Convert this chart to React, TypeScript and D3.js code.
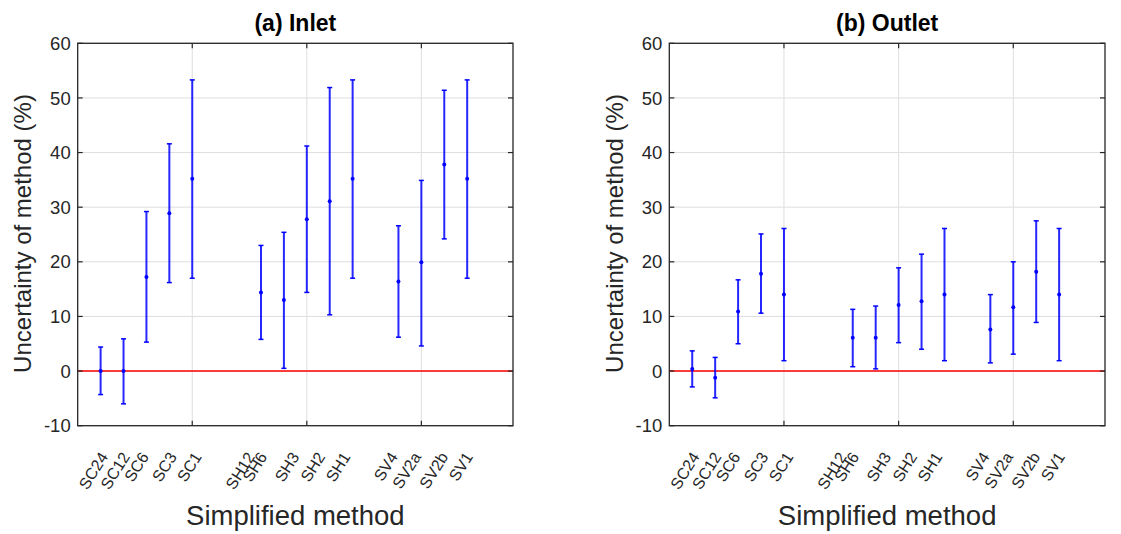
import React from "react";
import * as d3 from "d3";

const labels = ["SC24", "SC12", "SC6", "SC3", "SC1", "SH12", "SH6", "SH3", "SH2", "SH1", "SV4", "SV2a", "SV2b", "SV1"];
const xPos = [1, 2, 3, 4, 5, 8, 9, 10, 11, 12, 14, 15, 16, 17];
const labelPos = [1.35, 2.3, 3.13, 4.35, 5.44, 7.76, 8.3, 9.7, 10.83, 11.93, 14.0, 15.02, 16.2, 17.28];

const inletMean = [0, 0, 17.2, 28.9, 35.2, 14.4, 13.0, 27.8, 31.1, 35.2, 16.4, 19.9, 37.8, 35.2];
const inletLow = [-4.3, -6.0, 5.3, 16.2, 17.0, 5.8, 0.5, 14.4, 10.3, 17.0, 6.2, 4.6, 24.2, 17.0];
const inletHigh = [4.4, 5.9, 29.2, 41.6, 53.3, 23.0, 25.4, 41.2, 51.9, 53.3, 26.6, 34.9, 51.4, 53.3];

const outletMean = [0.4, -1.2, 10.9, 17.8, 14.0, 6.1, 6.1, 12.1, 12.8, 14.0, 7.6, 11.7, 18.2, 14.0];
const outletLow = [-2.9, -4.9, 5.0, 10.6, 1.9, 0.8, 0.4, 5.2, 4.0, 1.9, 1.5, 3.1, 8.9, 1.9];
const outletHigh = [3.7, 2.5, 16.7, 25.1, 26.1, 11.3, 11.9, 18.9, 21.4, 26.1, 14.0, 20.0, 27.5, 26.1];

const yTicks = [-10, 0, 10, 20, 30, 40, 50, 60];
const xGrid = [5, 10, 15];

const FONT = "'Liberation Sans', Arial, Helvetica, sans-serif";
const TEXT = "#262626";

type PanelProps = {
  title: string;
  left: number;
  right: number;
  mean: number[];
  low: number[];
  high: number[];
};

function Panel({ title, left, right, mean, low, high }: PanelProps) {
  const top = 43.3;
  const bottom = 425.7;
  const x = d3.scaleLinear().domain([0, 19]).range([left, right]);
  const y = d3.scaleLinear().domain([-10, 60]).range([bottom, top]);
  const cx = (left + right) / 2;
  const tl = 5;
  const ylx = left - 55;
  const yly = (top + bottom) / 2 - 1;
  return (
    <g>
      {yTicks.map((t) => (
        <line key={"gy" + t} x1={left} x2={right} y1={y(t)} y2={y(t)} stroke="#dedede" strokeWidth={1} />
      ))}
      {xGrid.map((t) => (
        <line key={"gx" + t} x1={x(t)} x2={x(t)} y1={top} y2={bottom} stroke="#dedede" strokeWidth={1} />
      ))}
      <line x1={left} x2={right} y1={y(0)} y2={y(0)} stroke="#ff0000" strokeWidth={1.6} />
      {xPos.map((p, i) => {
        const px = x(p);
        return (
          <g key={"e" + i} stroke="#0000ff" fill="#0000ff">
            <line x1={px} x2={px} y1={y(low[i])} y2={y(high[i])} strokeWidth={2} strokeOpacity={0.85} />
            <line x1={px - 2.5} x2={px + 2.5} y1={y(low[i])} y2={y(low[i])} strokeWidth={1.5} />
            <line x1={px - 2.5} x2={px + 2.5} y1={y(high[i])} y2={y(high[i])} strokeWidth={1.5} />
            <circle cx={px} cy={y(mean[i])} r={2} stroke="none" />
          </g>
        );
      })}
      <rect x={left} y={top} width={right - left} height={bottom - top} fill="none" stroke="#262626" strokeWidth={1.3} />
      {yTicks.map((t) => (
        <g key={"ty" + t} stroke="#262626" strokeWidth={1.2}>
          <line x1={left} x2={left + tl} y1={y(t)} y2={y(t)} />
          <line x1={right} x2={right - tl} y1={y(t)} y2={y(t)} />
        </g>
      ))}
      {xGrid.map((t) => (
        <g key={"tx" + t} stroke="#262626" strokeWidth={1.2}>
          <line x1={x(t)} x2={x(t)} y1={bottom} y2={bottom - tl} />
          <line x1={x(t)} x2={x(t)} y1={top} y2={top + tl} />
        </g>
      ))}
      {yTicks.map((t) => (
        <text key={"yl" + t} x={left - 7} y={y(t)} dy="0.36em" textAnchor="end" fontSize={18.5} fill={TEXT} fontFamily={FONT}>
          {t}
        </text>
      ))}
      {labels.map((l, i) => {
        const lx = x(labelPos[i]);
        const ly = bottom + 31;
        return (
          <text
            key={"xl" + i}
            x={lx}
            y={ly}
            textAnchor="end"
            fontSize={16}
            fill={TEXT}
            fontFamily={FONT}
            transform={`rotate(-58 ${lx} ${ly})`}
          >
            {l}
          </text>
        );
      })}
      <text x={cx} y={31} textAnchor="middle" fontSize={23} fontWeight="bold" fill="#000" fontFamily={FONT}>
        {title}
      </text>
      <text x={cx} y={525} textAnchor="middle" fontSize={27.5} fill={TEXT} fontFamily={FONT}>
        Simplified method
      </text>
      <text
        x={ylx}
        y={yly}
        textAnchor="middle"
        fontSize={24}
        fill={TEXT}
        fontFamily={FONT}
        transform={`rotate(-90 ${ylx} ${yly})`}
        dy="0.35em"
      >
        Uncertainty of method (%)
      </text>
    </g>
  );
}

export default function App() {
  return (
    <svg
      width={1121}
      height={534}
      viewBox="0 0 1121 534"
      style={{ position: "absolute", left: 0, top: 0, background: "#fff" }}
    >
      <rect x={0} y={0} width={1121} height={534} fill="#fff" />
      <Panel title="(a) Inlet" left={77.7} right={513} mean={inletMean} low={inletLow} high={inletHigh} />
      <Panel title="(b) Outlet" left={669.3} right={1105} mean={outletMean} low={outletLow} high={outletHigh} />
    </svg>
  );
}
